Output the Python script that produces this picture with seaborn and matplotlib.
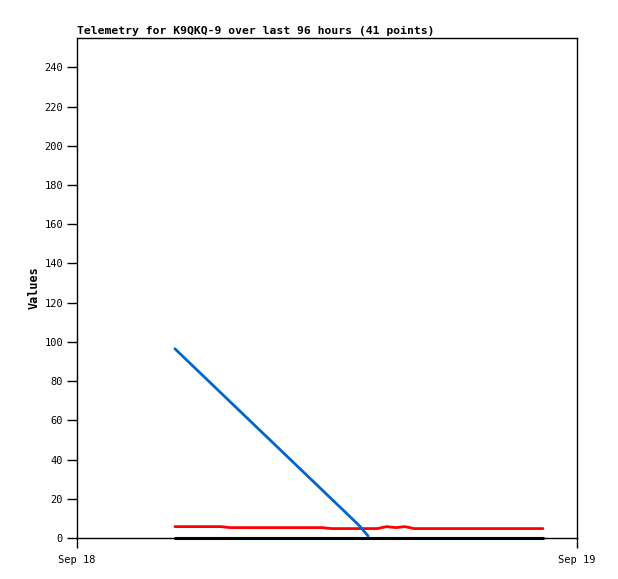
import numpy as np
import pandas as pd
import matplotlib
matplotlib.use("Agg")
import matplotlib.pyplot as plt
import matplotlib.dates as mdates
import seaborn as sns

# 41 samples, Sep 18 ~04:42 to ~22:22
start = pd.Timestamp("2023-09-18 04:42")
end = pd.Timestamp("2023-09-18 22:22")
times = pd.date_range(start, end, periods=41)

blue_vals = [96.5, 92, 87.5, 83, 78.5, 74, 69.5, 65, 60.5, 56, 51.5,
             47, 42.5, 38, 33.5, 29, 24.5, 20, 15.5, 11, 6.5, 1]
red_vals = [5.8, 5.8, 5.8, 5.8, 5.8, 5.8, 5.3, 5.3, 5.3, 5.3, 5.3,
            5.3, 5.3, 5.3, 5.3, 5.3, 5.3, 4.8, 4.8, 4.8, 4.8, 4.8,
            4.8, 5.8, 5.3, 5.8, 4.8, 4.8, 4.8, 4.8, 4.8, 4.8, 4.8,
            4.8, 4.8, 4.8, 4.8, 4.8, 4.8, 4.8, 4.8]
black_vals = [0] * 41

blue_series = blue_vals + [np.nan] * (41 - len(blue_vals))

df = pd.DataFrame({"time": times, "red": red_vals,
                   "black": black_vals, "blue": blue_series})

sns.set_style("white")
plt.rcParams['font.family'] = ['DejaVu Sans Mono', 'DejaVu Sans']
plt.rcParams['text.color'] = 'black'
plt.rcParams['axes.labelcolor'] = 'black'

fig = plt.figure(figsize=(6.18, 5.79), dpi=100)
ax = fig.add_axes([77 / 618, 1 - 538 / 579, 500 / 618, 500 / 579])

sns.lineplot(x="time", y="red", data=df, color="#ff0000", linewidth=2, ax=ax)
sns.lineplot(x="time", y="black", data=df, color="#000000", linewidth=2.2, ax=ax)
sns.lineplot(x="time", y="blue", data=df, color="#0066cc", linewidth=2, ax=ax)
for ln in ax.get_lines():
    ln.set_clip_on(False)

ax.set_xlim(pd.Timestamp("2023-09-18"), pd.Timestamp("2023-09-19"))
ax.set_ylim(0, 255)
ax.set_yticks(range(0, 241, 20))
ax.xaxis.set_major_locator(mdates.DayLocator())
ax.xaxis.set_major_formatter(mdates.DateFormatter("%b %d"))

for s in ax.spines.values():
    s.set_color("black")
    s.set_linewidth(1)
ax.tick_params(axis="both", direction="out", length=7, width=1, colors="black",
               labelsize=7.5, left=True, bottom=True)
ax.tick_params(axis="x", pad=5)
ax.tick_params(axis="y", pad=3)

ax.set_xlabel("")
ax.set_ylabel("Values", fontsize=8.5, fontweight="bold", labelpad=3)
ax.set_title("Telemetry for K9QKQ-9 over last 96 hours (41 points)",
             loc="left", fontsize=8.2, fontweight="bold", pad=3, color="black")

fig.savefig("out.png", dpi=100)
